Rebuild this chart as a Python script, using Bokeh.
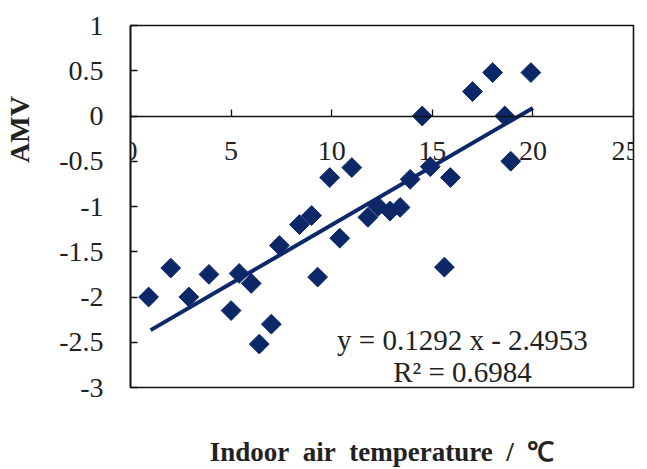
import math
from bokeh.plotting import figure
from bokeh.models import FixedTicker, Label, Range1d, ColumnDataSource, LinearAxis
from bokeh.embed import file_html
from bokeh.resources import INLINE

# ---- data ----
temp = [0.9, 2.0, 2.9, 3.9, 5.0, 5.4, 6.0, 6.4, 7.0, 7.4, 8.4, 9.0, 9.3, 9.9, 10.4,
        11.0, 11.8, 12.3, 12.9, 13.4, 13.9, 14.5, 14.9, 15.6, 15.9, 17.0, 18.0, 18.6, 18.9, 19.9]
amv = [-2.0, -1.68, -2.0, -1.75, -2.15, -1.74, -1.85, -2.52, -2.3, -1.43, -1.2, -1.1, -1.78, -0.68, -1.35,
       -0.57, -1.12, -1.0, -1.05, -1.01, -0.7, 0.0, -0.56, -1.67, -0.68, 0.27, 0.48, 0.0, -0.5, 0.48]
slope = 0.1292
intercept = -2.4953
r2 = 0.6984
fit_x = [1.0, 20.0]
x_ticks = [0, 5, 10, 15, 20, 25]
y_ticks = [1, 0.5, 0, -0.5, -1, -1.5, -2, -2.5, -3]
y_tick_labels = ["1", "0.5", "0", "-0.5", "-1", "-1.5", "-2", "-2.5", "-3"]
x_title = "Indoor\u00a0 air\u00a0 temperature\u00a0 /\u00a0 \u2103"
y_title = "AMV"

FONT = "Liberation Serif"
TXT = "#222222"
NAVY = "#0c2868"

p = figure(width=639, height=469, output_backend="svg", toolbar_location=None,
           x_range=Range1d(0, 25), y_range=Range1d(-3, 1),
           min_border_left=130, min_border_right=6, min_border_top=25, min_border_bottom=80)
p.background_fill_color = "white"
p.border_fill_color = "white"
p.outline_line_color = "#111111"
p.outline_line_width = 1.6
p.xgrid.visible = False
p.ygrid.visible = False

# x axis sits at y = 0
xa = p.xaxis[0]
xa.fixed_location = 0
xa.ticker = FixedTicker(ticks=x_ticks)
xa.axis_line_color = "#111111"
xa.axis_line_width = 1.6
xa.major_tick_in = 7
xa.major_tick_out = 0
xa.major_tick_line_color = "#111111"
xa.major_tick_line_width = 1.3
xa.minor_tick_line_color = None
xa.major_label_standoff = 26
xa.major_label_text_font = FONT
xa.major_label_text_font_size = "28px"
xa.major_label_text_color = TXT

# a bare axis below the frame carries the x title
xt = LinearAxis(ticker=FixedTicker(ticks=[]), axis_line_color=None,
                major_tick_line_color=None, minor_tick_line_color=None,
                major_tick_in=0, major_tick_out=0, minor_tick_in=0, minor_tick_out=0,
                major_label_standoff=0, major_label_text_font_size="1px",
                axis_label=x_title, axis_label_standoff=49,
                axis_label_text_font=FONT, axis_label_text_font_size="27px",
                axis_label_text_font_style="bold", axis_label_text_color=TXT)
p.add_layout(xt, "below")

ya = p.yaxis[0]
ya.ticker = FixedTicker(ticks=y_ticks)
ya.major_label_overrides = dict(zip(y_ticks, y_tick_labels))
ya.axis_line_color = "#111111"
ya.axis_line_width = 1.6
ya.major_tick_in = 7
ya.major_tick_out = 0
ya.major_tick_line_color = "#111111"
ya.major_tick_line_width = 1.3
ya.minor_tick_line_color = None
ya.major_label_standoff = 27
ya.major_label_text_font = FONT
ya.major_label_text_font_size = "28px"
ya.major_label_text_color = TXT
# title sits above the frame centre in the reference: pad its lower end
ya.axis_label = "\u00a0" * 22 + y_title
ya.axis_label_standoff = 21
ya.axis_label_text_font = FONT
ya.axis_label_text_font_size = "28px"
ya.axis_label_text_font_style = "bold"
ya.axis_label_text_color = TXT

# scatter points
src = ColumnDataSource(dict(x=temp, y=amv))
p.scatter("x", "y", source=src, marker="square", angle=math.pi / 4, size=14,
          fill_color=NAVY, line_color=NAVY, line_width=1)

# trend line
fit_y = [slope * v + intercept for v in fit_x]
p.line(fit_x, fit_y, line_color=NAVY, line_width=4)

# equation text
eq = "y = %.4f x - %.4f" % (slope, abs(intercept))
p.add_layout(Label(x=16.5, y=-2.47, text=eq, text_font=FONT, text_font_size="29px",
                   text_color=TXT, text_align="center", text_baseline="middle"))
p.add_layout(Label(x=16.5, y=-2.83, text="R\u00b2 = %.4f" % r2, text_font=FONT,
                   text_font_size="29px", text_color=TXT, text_align="center",
                   text_baseline="middle"))

open("out.html", "w").write(file_html(p, INLINE))
